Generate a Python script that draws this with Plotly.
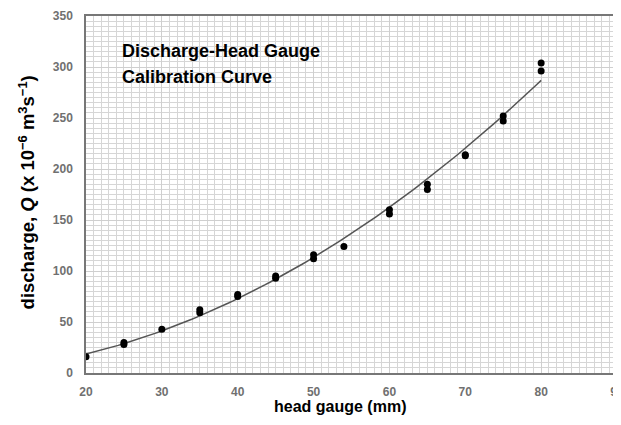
import numpy as np
import plotly.graph_objects as go

head_mm = [20, 25, 25, 30, 35, 35, 40, 40, 45, 45, 50, 50, 54, 60, 60, 65, 65, 70, 70, 75, 75, 80, 80]
discharge = [16, 28, 30, 43, 59, 62, 75, 77, 93, 95, 112, 116, 124, 156, 160, 180, 185, 213, 214, 247, 252, 296, 304]

x_ticks = [20, 30, 40, 50, 60, 70, 80, 90]
y_ticks = [0, 50, 100, 150, 200, 250, 300, 350]

# power-law fit through the data (trendline)
b, ln_a = np.polyfit(np.log(head_mm), np.log(discharge), 1)
fit_x = np.linspace(min(head_mm), max(head_mm), 100)
fit_y = np.exp(ln_a) * fit_x ** b

fig = go.Figure()
fig.add_trace(go.Scatter(x=fit_x, y=fit_y, mode="lines",
                         line=dict(color="#555555", width=1.5), hoverinfo="skip"))
fig.add_trace(go.Scatter(x=head_mm, y=discharge, mode="markers",
                         marker=dict(color="black", size=7)))

FONT = "Liberation Sans, Arial"
tickfont = dict(family=FONT, size=12, color="#707070")
fig.update_layout(
    width=621, height=425,
    margin=dict(l=78, r=12, t=8, b=60),
    plot_bgcolor="white", paper_bgcolor="white",
    showlegend=False,
    font=dict(family=FONT),
    xaxis=dict(range=[20, 90], tickvals=x_ticks, ticktext=[f"<b>{v}</b>" for v in x_ticks],
               tickfont=tickfont, showgrid=True, gridcolor="#cfcfcf", gridwidth=1,
               minor=dict(dtick=1, showgrid=True, gridcolor="#d6d6d6", gridwidth=1),
               showline=True, linecolor="#777777", linewidth=1.5, mirror=True,
               zeroline=False, ticks="outside", ticklen=7, tickcolor="rgba(0,0,0,0)",
               automargin=False),
    yaxis=dict(range=[0, 350], tickvals=y_ticks, ticktext=[f"<b>{v}</b>" for v in y_ticks],
               tickfont=tickfont, showgrid=True, gridcolor="#cfcfcf", gridwidth=1,
               minor=dict(dtick=5, showgrid=True, gridcolor="#d6d6d6", gridwidth=1),
               showline=True, linecolor="#777777", linewidth=1.5, mirror=True,
               zeroline=False, ticks="outside", ticklen=9, tickcolor="rgba(0,0,0,0)",
               automargin=False),
    annotations=[
        dict(text="<b>Discharge-Head Gauge</b>", xref="paper", yref="paper",
             x=0.064, y=0.936, xanchor="left", yanchor="top", showarrow=False,
             font=dict(size=18, color="black", family=FONT)),
        dict(text="<b>Calibration Curve</b>", xref="paper", yref="paper",
             x=0.064, y=0.863, xanchor="left", yanchor="top", showarrow=False,
             font=dict(size=18, color="black", family=FONT)),
        dict(text="<b>head gauge (mm)</b>", xref="paper", yref="paper",
             x=0.478, y=-0.095, xanchor="center", yanchor="middle", showarrow=False,
             font=dict(size=16, color="black", family=FONT)),
        dict(text="<b>discharge, <i>Q</i> (x 10<sup>−6</sup> m<sup>3</sup>s<sup>−1</sup>)</b>",
             xref="paper", yref="paper", x=-0.111, y=0.506, xanchor="center", yanchor="middle",
             textangle=-90, showarrow=False,
             font=dict(size=18.5, color="black", family=FONT)),
    ],
)

fig.write_html("out.html")
